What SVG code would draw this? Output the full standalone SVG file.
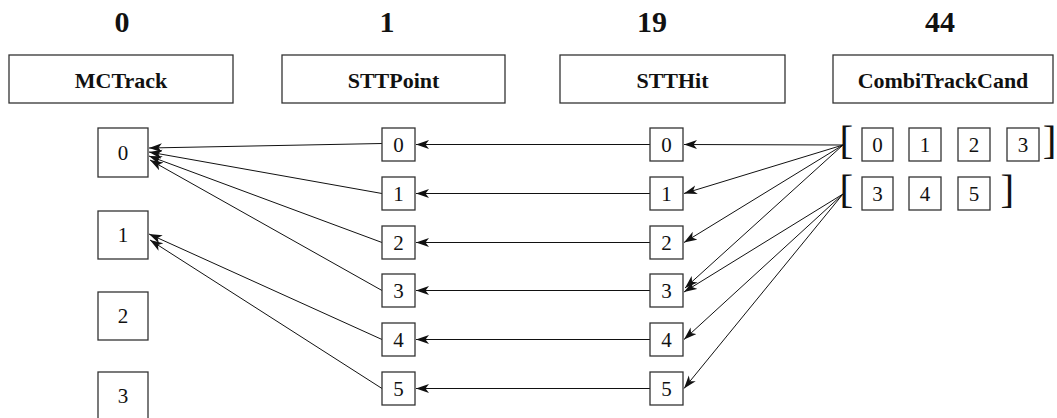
<svg xmlns="http://www.w3.org/2000/svg" width="1057" height="418" viewBox="0 0 1057 418">
<style>
.hdr{fill:#fff;stroke:#333;stroke-width:1.3}
.box{fill:#fff;stroke:#333;stroke-width:1.3}
.top{font-family:"Liberation Serif",serif;font-weight:bold;font-size:30px;text-anchor:middle;fill:#111}
.ht{font-family:"Liberation Serif",serif;font-weight:bold;font-size:22px;text-anchor:middle;fill:#111}
.num{font-family:"Liberation Serif",serif;font-size:21px;text-anchor:middle;fill:#111}
.br{font-family:"Liberation Serif",serif;font-size:41px;fill:#111}
.c{stroke:#111;stroke-width:1;fill:none;marker-end:url(#ah)}
</style>
<defs>
<marker id="ah" markerUnits="userSpaceOnUse" markerWidth="14" markerHeight="10" refX="13" refY="4.5" orient="auto">
<path d="M0,0 L13,4.5 L0,9 L3.5,4.5 z" fill="#111"/>
</marker>
</defs>
<rect width="1057" height="418" fill="#fff"/>
<g id="headers">
<text class="top" x="122" y="32">0</text>
<text class="top" x="387" y="32">1</text>
<text class="top" x="652" y="32">19</text>
<text class="top" x="940" y="32">44</text>
<g id="h-mctrack"><rect class="hdr" x="9" y="55" width="224" height="48"/><text class="ht" x="121" y="88">MCTrack</text></g>
<g id="h-sttpoint"><rect class="hdr" x="282" y="55" width="223" height="48"/><text class="ht" x="393.5" y="88">STTPoint</text></g>
<g id="h-stthit"><rect class="hdr" x="560" y="55" width="225" height="48"/><text class="ht" x="672.5" y="88">STTHit</text></g>
<g id="h-combi"><rect class="hdr" x="833" y="55" width="220" height="48"/><text class="ht" x="943" y="88">CombiTrackCand</text></g>
</g>
<g id="connectors">
<line class="c" x1="650" y1="144.5" x2="416" y2="144.5"/>
<line class="c" x1="650" y1="193.5" x2="416" y2="193.5"/>
<line class="c" x1="650" y1="242.5" x2="416" y2="242.5"/>
<line class="c" x1="650" y1="290.5" x2="416" y2="290.5"/>
<line class="c" x1="650" y1="339.5" x2="416" y2="339.5"/>
<line class="c" x1="650" y1="388.5" x2="416" y2="388.5"/>
<line class="c" x1="382" y1="143.5" x2="149" y2="148"/>
<line class="c" x1="382" y1="193.5" x2="149" y2="152"/>
<line class="c" x1="382" y1="242.5" x2="149" y2="156"/>
<line class="c" x1="382" y1="290.5" x2="150" y2="160"/>
<line class="c" x1="382" y1="339.5" x2="149" y2="234"/>
<line class="c" x1="382" y1="388.5" x2="150" y2="240"/>
<line class="c" x1="843" y1="145" x2="684" y2="144.5"/>
<line class="c" x1="843" y1="145" x2="684" y2="193.5"/>
<line class="c" x1="843" y1="145" x2="684" y2="242.5"/>
<line class="c" x1="843" y1="145" x2="685" y2="288"/>
<line class="c" x1="843" y1="194" x2="684" y2="292"/>
<line class="c" x1="843" y1="194" x2="684" y2="339.5"/>
<line class="c" x1="843" y1="194" x2="684" y2="388.5"/>
</g>
<g id="mctrack">
<g id="mc0"><rect class="box" x="98" y="128" width="50" height="49"/><text class="num" x="123" y="160">0</text></g>
<g id="mc1"><rect class="box" x="98" y="211" width="50" height="48"/><text class="num" x="123" y="242">1</text></g>
<g id="mc2"><rect class="box" x="98" y="292" width="50" height="48"/><text class="num" x="123" y="323">2</text></g>
<g id="mc3"><rect class="box" x="98" y="372" width="50" height="48"/><text class="num" x="123" y="403">3</text></g>
</g>
<g id="sttpoint">
<g id="p0"><rect class="box" x="382" y="128" width="33" height="33"/><text class="num" x="398.5" y="152">0</text></g>
<g id="p1"><rect class="box" x="382" y="177" width="33" height="33"/><text class="num" x="398.5" y="201">1</text></g>
<g id="p2"><rect class="box" x="382" y="226" width="33" height="33"/><text class="num" x="398.5" y="250">2</text></g>
<g id="p3"><rect class="box" x="382" y="274" width="33" height="33"/><text class="num" x="398.5" y="298">3</text></g>
<g id="p4"><rect class="box" x="382" y="323" width="33" height="33"/><text class="num" x="398.5" y="347">4</text></g>
<g id="p5"><rect class="box" x="382" y="372" width="33" height="33"/><text class="num" x="398.5" y="396">5</text></g>
</g>
<g id="stthit">
<g id="h0"><rect class="box" x="650" y="128" width="33" height="33"/><text class="num" x="666.5" y="152">0</text></g>
<g id="h1"><rect class="box" x="650" y="177" width="33" height="33"/><text class="num" x="666.5" y="201">1</text></g>
<g id="h2"><rect class="box" x="650" y="226" width="33" height="33"/><text class="num" x="666.5" y="250">2</text></g>
<g id="h3"><rect class="box" x="650" y="274" width="33" height="33"/><text class="num" x="666.5" y="298">3</text></g>
<g id="h4"><rect class="box" x="650" y="323" width="33" height="33"/><text class="num" x="666.5" y="347">4</text></g>
<g id="h5"><rect class="box" x="650" y="372" width="33" height="33"/><text class="num" x="666.5" y="396">5</text></g>
</g>
<g id="cand0">
<text class="br" x="839.5" y="153.5">[</text>
<rect class="box" x="862" y="128" width="31" height="33"/><text class="num" x="877.5" y="152">0</text>
<rect class="box" x="909" y="128" width="32" height="33"/><text class="num" x="925" y="152">1</text>
<rect class="box" x="958" y="128" width="32" height="33"/><text class="num" x="974" y="152">2</text>
<rect class="box" x="1007" y="128" width="32" height="33"/><text class="num" x="1023" y="152">3</text>
<text class="br" x="1056.5" y="153.5" text-anchor="end">]</text>
</g>
<g id="cand1">
<text class="br" x="839.5" y="203">[</text>
<rect class="box" x="862" y="177" width="31" height="33"/><text class="num" x="877.5" y="201">3</text>
<rect class="box" x="909" y="177" width="32" height="33"/><text class="num" x="925" y="201">4</text>
<rect class="box" x="958" y="177" width="32" height="33"/><text class="num" x="974" y="201">5</text>
<text class="br" x="1000.6" y="203">]</text>
</g>
</svg>
